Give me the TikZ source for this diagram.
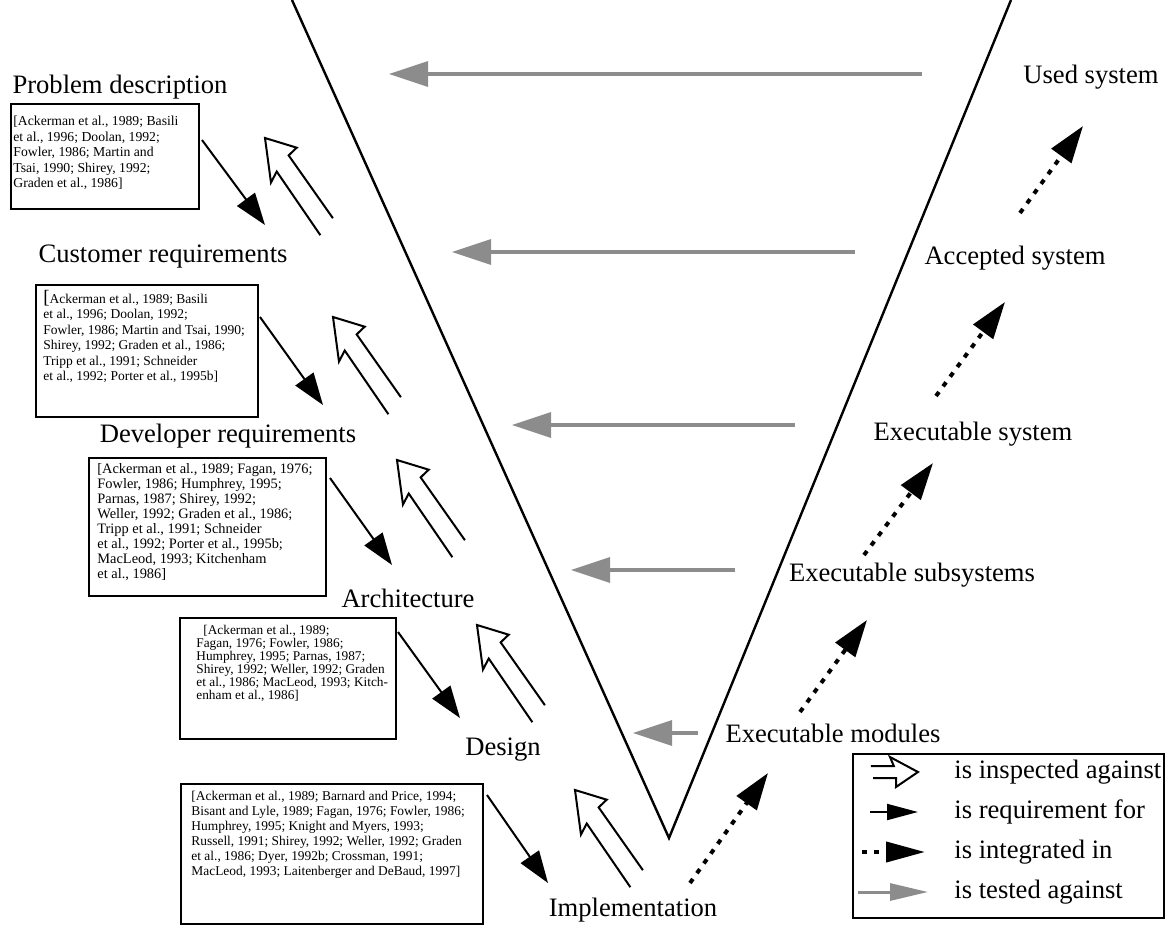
\documentclass[tikz,border=0pt]{standalone}
\usepackage{fontspec}
\setmainfont{Liberation Serif}
\usetikzlibrary{arrows.meta}
\definecolor{testgrey}{gray}{0.55}

\tikzset{
  vline/.style={line width=1.2pt, line join=miter},
  phase/.style={inner sep=0pt, font=\fontsize{13.3}{15}\selectfont},
  refbox/.style={draw, line width=1pt, inner sep=0pt, anchor=north west},
  reftext/.style={inner sep=0pt, align=left, anchor=north west},
  reqfor/.style={line width=1pt, -{Triangle[length=16pt, width=11pt]}},
  integr/.style={line width=2pt, dash pattern=on 2.5pt off 3.5pt,
                 -{Triangle[length=18.5pt, width=12pt]}},
  tested/.style={draw=testgrey, line width=1.6pt, -{Triangle[length=19.5pt, width=12.5pt]}},
  insp/.style={rotate=124.8, xslant=-0.34},
  hollow/.pic={\draw[line width=1pt, miter limit=20]
      (-108,-10) -- (-31,-9.5) -- (-33,-20.5) -- (0,0) -- (-33,20.5) -- (-31,9.5) -- (-108,10);},
  hollowkey/.pic={\draw[line width=1pt, miter limit=20]
      (-46,-6) -- (-23,-6) -- (-25,-15) -- (0,0) -- (-25,15) -- (-23,6) -- (-46,6);},
}

\begin{document}
\begin{tikzpicture}[x=0.5pt, y=-0.5pt]
\useasboundingbox (0,0) rectangle (1169,928);

% the V of development and testing
\coordinate (vL) at (292,0);
\coordinate (vB) at (669,838);
\coordinate (vR) at (1011,0);
\draw[vline] (vL) -- (vB) -- (vR);

% phase labels, left branch
\node[phase] (lProb) at (120,87)  {Problem description};
\node[phase] (lCust) at (163,257) {Customer requirements};
\node[phase] (lDev)  at (228,436) {Developer requirements};
\node[phase] (lArch) at (408,598) {Architecture};
\node[phase] (lDes)  at (503,750) {Design};
\node[phase] (lImpl) at (633,910) {Implementation};

% phase labels, right branch
\node[phase] (lUsed) at (1091,77)  {Used system};
\node[phase] (lAcc)  at (1015,258) {Accepted system};
\node[phase] (lExs)  at (973,434)  {Executable system};
\node[phase] (lSub)  at (912,575)  {Executable subsystems};
\node[phase] (lMod)  at (833,733)  {Executable modules};

% reference boxes
\node[refbox, minimum width=94pt,   minimum height=52.5pt] (b1) at (10,103)  {};
\node[refbox, minimum width=111pt,  minimum height=66pt]   (b2) at (35,284)  {};
\node[refbox, minimum width=118.5pt,minimum height=69pt]   (b3) at (88,457)  {};
\node[refbox, minimum width=108pt,  minimum height=60.5pt] (b4) at (179,617) {};
\node[refbox, minimum width=151pt,  minimum height=70pt]   (b5) at (180,783) {};

\node[reftext, font=\fontsize{6.85}{7.75}\selectfont] (c1) at (13,116)
  {[Ackerman et al., 1989; Basili\\
   et al., 1996; Doolan, 1992;\\
   Fowler, 1986; Martin and\\
   Tsai, 1990; Shirey, 1992;\\
   Graden et al., 1986]};

\node[reftext, font=\fontsize{6.75}{7.7}\selectfont] (c2) at (43,290)
  {{\fontsize{9.5}{9.5}\selectfont[}Ackerman et al., 1989; Basili\\
   et al., 1996; Doolan, 1992;\\
   Fowler, 1986; Martin and Tsai, 1990;\\
   Shirey, 1992; Graden et al., 1986;\\
   Tripp et al., 1991; Schneider\\
   et al., 1992; Porter et al., 1995b]};

\node[reftext, font=\fontsize{7.2}{7.5}\selectfont] (c3) at (97,463)
  {[Ackerman et al., 1989; Fagan, 1976;\\
   Fowler, 1986; Humphrey, 1995;\\
   Parnas, 1987; Shirey, 1992;\\
   Weller, 1992; Graden et al., 1986;\\
   Tripp et al., 1991; Schneider\\
   et al., 1992; Porter et al., 1995b;\\
   MacLeod, 1993; Kitchenham\\
   et al., 1986]};

\node[reftext, font=\fontsize{6.66}{6.5}\selectfont] (c4) at (196,625)
  {\hspace*{3.5pt}[Ackerman et al., 1989;\\
   Fagan, 1976; Fowler, 1986;\\
   Humphrey, 1995; Parnas, 1987;\\
   Shirey, 1992; Weller, 1992; Graden\\
   et al., 1986; MacLeod, 1993; Kitch-\\
   enham et al., 1986]};

\node[reftext, font=\fontsize{6.72}{7.5}\selectfont] (c5) at (191,791)
  {[Ackerman et al., 1989; Barnard and Price, 1994;\\
   Bisant and Lyle, 1989; Fagan, 1976; Fowler, 1986;\\
   Humphrey, 1995; Knight and Myers, 1993;\\
   Russell, 1991; Shirey, 1992; Weller, 1992; Graden\\
   et al., 1986; Dyer, 1992b; Crossman, 1991;\\
   MacLeod, 1993; Laitenberger and DeBaud, 1997]};

% "is requirement for" arrows
\coordinate (r1s) at (202,140); \coordinate (r1e) at (265,225);
\coordinate (r2s) at (260,317); \coordinate (r2e) at (323,405);
\coordinate (r3s) at (330,478); \coordinate (r3e) at (392,565);
\coordinate (r4s) at (398,632); \coordinate (r4e) at (460,718);
\coordinate (r5s) at (487,795); \coordinate (r5e) at (548,883);
\foreach \k in {1,...,5} \draw[reqfor] (r\k s) -- (r\k e);

% "is inspected against" arrows
\coordinate (h1) at (265,138);
\coordinate (h2) at (333,317);
\coordinate (h3) at (397,460);
\coordinate (h4) at (477,625);
\coordinate (h5) at (575,790);
\foreach \k in {1,...,5} \pic[insp] at (h\k) {hollow};

% "is tested against" arrows
\coordinate (t1s) at (922,74);  \coordinate (t1e) at (389,74);
\coordinate (t2s) at (855,252); \coordinate (t2e) at (452,252);
\coordinate (t3s) at (795,425); \coordinate (t3e) at (512,425);
\coordinate (t4s) at (735,570); \coordinate (t4e) at (571,570);
\coordinate (t5s) at (698,733); \coordinate (t5e) at (633,733);
\foreach \k in {1,...,5} \draw[tested] (t\k s) -- (t\k e);

% "is integrated in" arrows
\coordinate (g1s) at (690,883);  \coordinate (g1e) at (768,773);
\coordinate (g2s) at (800,712);  \coordinate (g2e) at (867,620);
\coordinate (g3s) at (864,555);  \coordinate (g3e) at (933,463);
\coordinate (g4s) at (936,396);  \coordinate (g4e) at (1005,302);
\coordinate (g5s) at (1020,213); \coordinate (g5e) at (1083,126);
\foreach \k in {1,...,5} \draw[integr] (g\k s) -- (g\k e);

% key
\node[refbox, minimum width=155.5pt, minimum height=82pt] (key) at (852,753) {};
\node[phase, anchor=west] (k1) at (954,772) {is inspected against};
\node[phase, anchor=west] (k2) at (954,812) {is requirement for};
\node[phase, anchor=west] (k3) at (954,852) {is integrated in};
\node[phase, anchor=west] (k4) at (954,892) {is tested against};
\coordinate (k1e) at (918,772);
\pic[xslant=-0.2] at (k1e) {hollowkey};
\coordinate (k2s) at (870,812); \coordinate (k2e) at (918,812);
\draw[line width=1pt, -{Triangle[length=15.5pt, width=8pt]}] (k2s) -- (k2e);
\coordinate (k3s) at (862,852); \coordinate (k3e) at (925,852);
\draw[integr, -{Triangle[length=19.5pt, width=10pt]}] (k3s) -- (k3e);
\coordinate (k4s) at (858,892); \coordinate (k4e) at (928,892);
\draw[tested, line width=1.5pt, -{Triangle[length=19pt, width=8.5pt]}] (k4s) -- (k4e);
\end{tikzpicture}
\end{document}
